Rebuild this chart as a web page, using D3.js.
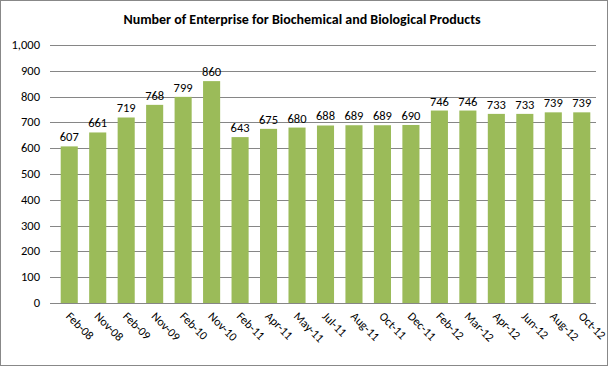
<!DOCTYPE html>
<html><head><meta charset="utf-8">
<script src="https://cdn.jsdelivr.net/npm/d3@7"></script>
<style>body{margin:0;background:#fff}svg{display:block}</style>
</head><body>
<script>
const categories = ["Feb-08","Nov-08","Feb-09","Nov-09","Feb-10","Nov-10","Feb-11","Apr-11","May-11","Jul-11","Aug-11","Oct-11","Dec-11","Feb-12","Mar-12","Apr-12","Jun-12","Aug-12","Oct-12"];
const values = [607,661,719,768,799,860,643,675,680,688,689,689,690,746,746,733,733,739,739];
const yTicks = [0,100,200,300,400,500,600,700,800,900,1000];
const title = "Number of Enterprise for Biochemical and Biological Products";

const W = 609, H = 367;
const m = {left:55, right:13, top:45, bottom:64};
const svg = d3.select("body").append("svg").attr("width", W).attr("height", H);
svg.append("rect").attr("x",0.5).attr("y",0.5).attr("width",W-2).attr("height",H-2)
  .attr("fill","#fff").attr("stroke","#888");

const font = "Calibri, Carlito, 'Open Sans', sans-serif";
svg.append("text").attr("x", 302).attr("y", 24).attr("text-anchor","middle")
  .attr("font-family", font).attr("font-weight","bold").attr("font-size", 14)
  .attr("fill","#000").text(title);

const x = d3.scaleBand().domain(categories).range([m.left, W - m.right]).paddingInner(0.4).paddingOuter(0.2);
const y = d3.scaleLinear().domain([0,1000]).range([H - m.bottom, m.top]);

const gy = svg.append("g");
gy.selectAll("line").data(yTicks).join("line")
  .attr("x1", m.left - 5).attr("x2", W - m.right)
  .attr("y1", d => Math.round(y(d)) + 0.5).attr("y2", d => Math.round(y(d)) + 0.5)
  .attr("stroke", "#868686").attr("stroke-width", 1);
gy.selectAll("text").data(yTicks).join("text")
  .attr("x", 40).attr("y", d => y(d) + 4).attr("text-anchor","end")
  .attr("font-family", font).attr("font-size", 12.5).attr("fill","#000")
  .text(d => d3.format(",")(d));

svg.append("g").selectAll("rect").data(values).join("rect")
  .attr("x", (d,i) => x(categories[i])).attr("width", x.bandwidth())
  .attr("y", d => y(d)).attr("height", d => y(0) - y(d))
  .attr("fill", "#9BBB59");

svg.append("line").attr("x1", m.left).attr("x2", W - m.right)
  .attr("y1", Math.round(y(0)) + 0.5).attr("y2", Math.round(y(0)) + 0.5)
  .attr("stroke", "#868686");

svg.append("g").selectAll("text").data(values).join("text")
  .attr("x", (d,i) => x(categories[i]) + x.bandwidth()/2)
  .attr("y", d => y(d) - 5).attr("text-anchor","middle")
  .attr("font-family", font).attr("font-size", 12.5).attr("fill","#000")
  .text(d => d);

svg.append("g").selectAll("text").data(categories).join("text")
  .attr("transform", d => `translate(${x(d) + x.bandwidth()/2 - 4},${y(0) + 14}) rotate(45)`)
  .attr("text-anchor","start")
  .attr("font-family", font).attr("font-size", 12).attr("fill","#000")
  .text(d => d);
</script>
</body></html>
